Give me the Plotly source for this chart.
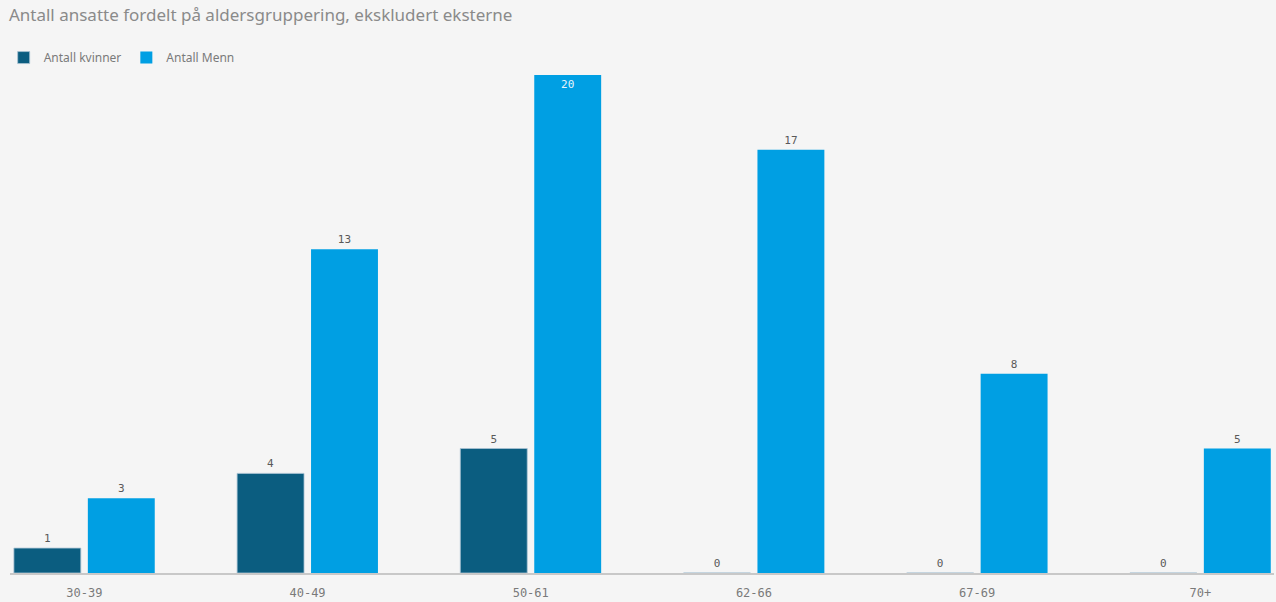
import plotly.graph_objects as go

categories = ["30-39", "40-49", "50-61", "62-66", "67-69", "70+"]
kvinner = [1, 4, 5, 0, 0, 0]
menn = [3, 13, 20, 17, 8, 5]

title = "Antall ansatte fordelt på aldersgruppering, ekskludert eksterne"
name_k = "Antall kvinner"
name_m = "Antall Menn"

mx = max(kvinner + menn)

def positions(vals):
    return ["inside" if v == mx else "outside" for v in vals]

def textcolors(vals):
    return ["#e8f4fb" if v == mx else "#595959" for v in vals]

fig = go.Figure()
fig.add_trace(go.Bar(
    x=categories, y=kvinner, name=name_k,
    marker=dict(color="#0b5d80", line=dict(color="#a9c3d3", width=0.8)),
    text=[str(v) for v in kvinner], textposition=positions(kvinner),
    insidetextanchor="end",
    textfont=dict(family="DejaVu Sans Mono", size=11, color=textcolors(kvinner)),
    cliponaxis=False,
))
fig.add_trace(go.Bar(
    x=categories, y=menn, name=name_m,
    marker=dict(color="#009fe3", line=dict(width=0)),
    text=[str(v) for v in menn], textposition=positions(menn),
    insidetextanchor="end",
    textfont=dict(family="DejaVu Sans Mono", size=11, color=textcolors(menn)),
    cliponaxis=False,
))

fig.update_layout(
    width=1276, height=602,
    paper_bgcolor="#f5f5f5", plot_bgcolor="#f5f5f5",
    margin=dict(l=10, r=2, t=75, b=29, autoexpand=False),
    barmode="group", bargap=0.3375, bargroupgap=0.095,
    title=dict(text=title, x=0.007, xanchor="left", y=0.975, yanchor="middle",
               font=dict(family="Noto Sans", size=17, color="#8a8a8a")),
    legend=dict(orientation="h", x=-0.005, xanchor="left", y=1.035, yanchor="middle",
                font=dict(family="Noto Sans", size=12, color="#7a7a7a"),
                itemwidth=30, bgcolor="rgba(0,0,0,0)", traceorder="normal"),
    showlegend=True,
)
fig.update_xaxes(range=[-0.333, 5.33], showline=True, linecolor="#c8c8c8", linewidth=2,
                 ticks="", showgrid=False, zeroline=False, ticklabelstandoff=8,
                 automargin=False,
                 tickfont=dict(family="DejaVu Sans Mono", size=12, color="#7a7a7a"))
fig.update_yaxes(range=[0, 20], visible=False, showgrid=False, zeroline=False)

fig.write_html("out.html")
